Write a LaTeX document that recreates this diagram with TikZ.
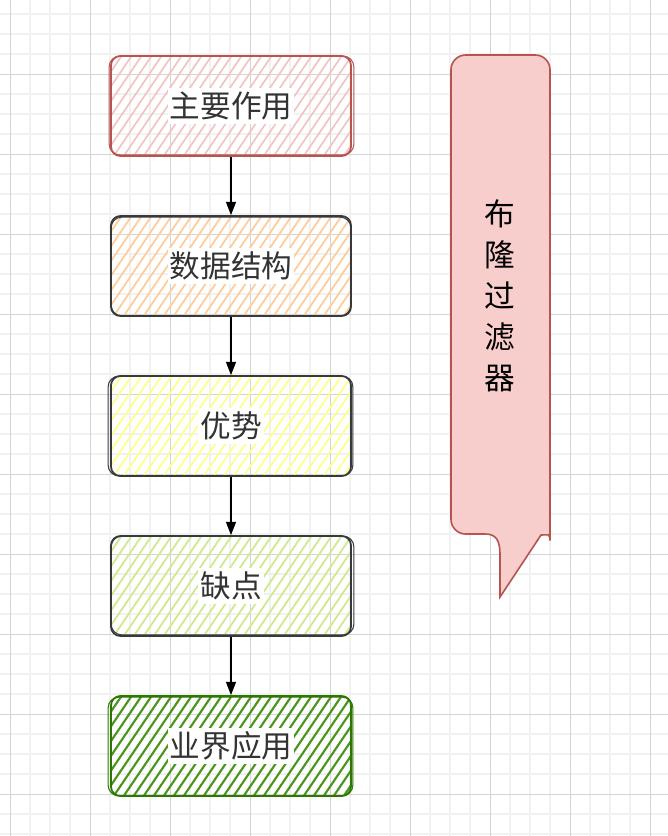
\documentclass[tikz,border=0pt]{standalone}
\usepackage{fontspec}
\newfontfamily\cjk{Noto Sans CJK SC}
\usetikzlibrary{calc,arrows.meta}
\definecolor{gminor}{HTML}{F1F1F1}
\definecolor{gmajor}{HTML}{D4D4D4}
\definecolor{redS}{HTML}{B85450}
\definecolor{redF}{HTML}{F2C2C0}
\definecolor{darkS}{HTML}{36393D}
\definecolor{orgF}{HTML}{FFCC99}
\definecolor{yelF}{HTML}{FFFF88}
\definecolor{limF}{HTML}{CDEB8B}
\definecolor{grnS}{HTML}{2D7600}
\definecolor{grnF}{HTML}{4A961C}
\definecolor{callF}{HTML}{F8CECC}
\definecolor{txt}{HTML}{333333}
\tikzset{
  minor/.style={draw=gminor,line width=0.9pt},
  major/.style={draw=gmajor,line width=0.75pt},
  sbox/.style n args={3}{draw=#1,line width=1.3pt,rounded corners=7pt,
    minimum width=180pt,minimum height=75pt,inner sep=0pt,
    path picture={
      \foreach \k in {-80,-70,...,250}
        \draw[draw=#2,line width=#3]
          ($(path picture bounding box.south west)+(\k,4)$) -- ++(76,-112);
    }},
  rough/.style={draw=#1,line width=0.8pt,rounded corners=8pt},
  lab/.style={fill=white,text=txt,font=\cjk\fontsize{23}{27}\selectfont,
    inner xsep=1.5pt,inner ysep=0pt,minimum height=27pt},
  conn/.style={draw=black,line width=1.1pt,-{Triangle[length=10pt,width=7.5pt]}},
  callout/.style={draw=redS,fill=callF,line width=1.2pt},
  vtext/.style={text=black,font=\cjk\fontsize{23}{30.75}\selectfont,align=center}
}
\begin{document}
\begin{tikzpicture}[x=0.75pt,y=-0.75pt]
\useasboundingbox[fill=white] (0,0) rectangle (668,836);
% grid
\foreach \x in {30,50,70,110,130,150,190,210,230,270,290,310,350,370,390,430,450,470,510,530,550,590,610,630}
  \draw[minor] (\x,0) -- (\x,836);
\foreach \y in {14,34,54,94,114,134,174,194,214,254,274,294,334,354,374,414,434,454,494,514,534,574,594,614,654,674,694,734,754,774,814,834}
  \draw[minor] (0,\y) -- (668,\y);
\foreach \x in {10,90,...,650}
  \draw[major] (\x,0) -- (\x,836);
\foreach \y in {74,154,...,794}
  \draw[major] (0,\y) -- (668,\y);

% boxes
\node[sbox={redS}{redF}{1.2pt}]   (b1) at (231,106) {};
\node[sbox={darkS}{orgF}{1.3pt}]  (b2) at (231,266) {};
\node[sbox={darkS}{yelF}{1.3pt}]  (b3) at (231,426) {};
\node[sbox={darkS}{limF}{1.3pt}]  (b4) at (231,586) {};
\node[sbox={grnS}{grnF}{1.6pt}]   (b5) at (231,746) {};
% second rough strokes
\draw[rough=redS]  ($(b1.south west)+(-1,-2)$) rectangle ($(b1.north east)+(2,1)$);
\draw[rough=darkS] ($(b2.south west)+(1,-1)$) rectangle ($(b2.north east)+(-1,2)$);
\draw[rough=darkS] ($(b3.south west)+(-2,-1)$) rectangle ($(b3.north east)+(1,1)$);
\draw[rough=darkS] ($(b4.south west)+(1,-2)$) rectangle ($(b4.north east)+(2,1)$);
\draw[rough=grnS]  ($(b5.south west)+(-2,-1)$) rectangle ($(b5.north east)+(1,2)$);

% labels
\node[lab] (t1) at (b1) {主要作用};
\node[lab] (t2) at (b2) {数据结构};
\node[lab] (t3) at (b3) {优势};
\node[lab] (t4) at (b4) {缺点};
\node[lab] (t5) at (b5) {业界应用};

% connectors
\draw[conn] (b1.south) -- (b2.north);
\draw[conn] (b2.south) -- (b3.north);
\draw[conn] (b3.south) -- (b4.north);
\draw[conn] (b4.south) -- (b5.north);

% callout
\draw[callout] (500,597) -- (500,555) .. controls (500,540) and (496,534) .. (485,534)
  [rounded corners=11pt] -- (451,534) -- (451,55) -- (550,55) -- (550,526)
  [sharp corners] .. controls (550,533) and (548,535) .. (541,535) -- cycle;
\node[vtext] (c) at (500,296) {布\\隆\\过\\滤\\器};
\end{tikzpicture}
\end{document}
